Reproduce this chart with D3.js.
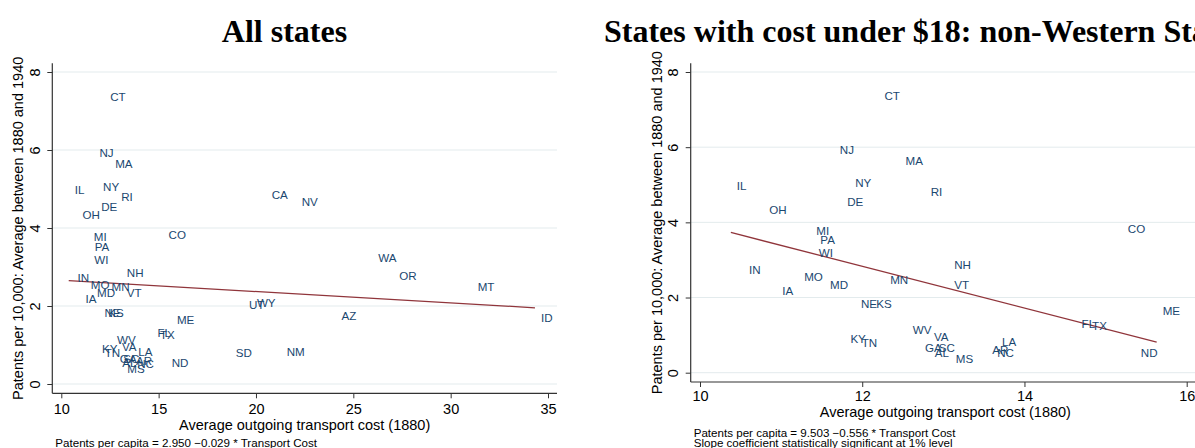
<!DOCTYPE html>
<html>
<head>
<meta charset="utf-8">
<script src="https://cdn.jsdelivr.net/npm/d3@7"></script>
<style>
  body { margin: 0; background: #fff; }
  svg { display: block; font-family: "Liberation Sans", Arial, sans-serif; }
  .title { font-family: "Liberation Serif", "Times New Roman", serif; font-weight: bold; font-size: 32px; }
</style>
</head>
<body>
<svg id="svg" width="1195" height="448"></svg>
<script>
// state labels, outgoing transport cost (1880) and patents per 10,000 (1880-1940 average)
var states  = ["CT","NJ","MA","NY","RI","DE","IL","OH","MI","PA","WI","IN","MO","MD","IA","NE","KS","KY","TN",
               "NH","MN","VT","CO","ME","FL","TX","ND","WV","VA","GA","SC","AL","MS","AR","NC","LA",
               "CA","NV","WA","OR","MT","ID","AZ","NM","SD","UT","WY"];
var costs   = [12.20,11.65,12.46,11.84,12.77,11.74,10.38,10.78,11.36,11.41,11.39,10.53,11.21,11.53,10.94,11.91,12.10,11.78,11.92,
               13.06,12.27,13.06,15.20,15.63,14.63,14.76,15.36,12.55,12.81,12.70,12.87,12.82,13.08,13.53,13.59,13.65,
               20.50,22.04,25.97,27.05,31.08,34.33,24.09,21.27,18.65,19.33,19.74];
var patents = [7.37,5.94,5.64,5.05,4.81,4.55,4.97,4.33,3.78,3.53,3.19,2.73,2.55,2.34,2.18,1.83,1.83,0.91,0.80,
               2.86,2.48,2.33,3.82,1.65,1.30,1.25,0.54,1.14,0.96,0.65,0.65,0.54,0.38,0.60,0.52,0.82,
               4.85,4.67,3.24,2.78,2.48,1.70,1.74,0.83,0.79,2.04,2.08];

var yTicks = [0, 2, 4, 6, 8];
var xTicksAll = [10, 15, 20, 25, 30, 35];
var xTicksSub = [10, 12, 14, 16];

// fitted lines from the notes
var fitAll = {a: 2.950, b: -0.029};
var fitSub = {a: 9.503, b: -0.556};

var navy = "#1a476f", maroon = "#90353b", grid = "#e3ebed", axisCol = "#333";

var svg = d3.select("svg");
var data = states.map(function(s, i){ return {s: s, x: costs[i], y: patents[i]}; });

function panel(cfg){
    var g = svg.append("g");
    var sx = d3.scaleLinear().domain(cfg.xDom).range(cfg.xRange);
    var sy = d3.scaleLinear().domain([0, 8]).range(cfg.yRange);

    // grid
    g.selectAll("line.grid").data(yTicks).enter().append("line")
        .attr("x1", cfg.left).attr("x2", cfg.right)
        .attr("y1", d => sy(d)).attr("y2", d => sy(d))
        .attr("stroke", grid).attr("stroke-width", 1);

    // x axis
    var xa = g.append("g").attr("transform", "translate(0," + cfg.base + ")")
        .call(d3.axisBottom(sx).tickValues(cfg.xTicks).tickFormat(d3.format("d"))
            .tickSize(5).tickSizeOuter(0).tickPadding(cfg.xPad));
    xa.select(".domain").remove();
    xa.selectAll(".tick line").attr("stroke", axisCol);
    xa.selectAll(".tick text").attr("font-size", "14.5px").attr("fill", "#000").attr("font-family", null);

    // y axis
    var ya = g.append("g").attr("transform", "translate(" + cfg.left + ",0)")
        .call(d3.axisLeft(sy).tickValues(yTicks).tickFormat(d3.format("d")).tickSize(5).tickSizeOuter(0));
    ya.select(".domain").remove();
    ya.selectAll(".tick line").attr("stroke", axisCol);
    ya.selectAll(".tick text").attr("x", null).attr("dy", null)
        .attr("text-anchor", "middle").attr("font-size", "14.5px").attr("fill", "#000").attr("font-family", null)
        .attr("transform", "translate(-12.3,0) rotate(-90)");

    g.append("line").attr("x1", cfg.left).attr("x2", cfg.right).attr("y1", cfg.base).attr("y2", cfg.base)
        .attr("stroke", axisCol).attr("stroke-width", 1.2);
    g.append("line").attr("x1", cfg.left).attr("x2", cfg.left).attr("y1", cfg.top).attr("y2", cfg.base)
        .attr("stroke", axisCol).attr("stroke-width", 1.2);

    // fit line over the data range
    var ext = d3.extent(cfg.rows, d => d.x);
    g.append("line")
        .attr("x1", sx(ext[0])).attr("y1", sy(cfg.fit.a + cfg.fit.b * ext[0]))
        .attr("x2", sx(ext[1])).attr("y2", sy(cfg.fit.a + cfg.fit.b * ext[1]))
        .attr("stroke", maroon).attr("stroke-width", 1.3);

    // state labels (marker symbol none, label at 3 o'clock)
    g.selectAll("text.st").data(cfg.rows).enter().append("text")
        .attr("x", d => sx(d.x) + 6).attr("y", d => sy(d.y)).attr("dy", "0.36em")
        .attr("font-size", "11.6px").attr("fill", navy).text(d => d.s);

    // axis titles
    g.append("text").attr("x", (cfg.left + cfg.right) / 2).attr("y", cfg.xTitleY)
        .attr("text-anchor", "middle").attr("font-size", "14.5px")
        .text("Average outgoing transport cost (1880)");
    g.append("text").attr("transform", "translate(" + cfg.yTitleX + "," + (cfg.top + cfg.base) / 2 + ") rotate(-90)")
        .attr("text-anchor", "middle").attr("font-size", "14.5px")
        .text("Patents per 10,000: Average between 1880 and 1940");

    // notes
    cfg.notes.forEach(function(n, i){
        g.append("text").attr("x", cfg.left + 3).attr("y", cfg.noteY + i * 10.8)
            .attr("font-size", "11.6px").text(n);
    });

    svg.append("text").attr("class", "title")
        .attr("x", cfg.titleX).attr("y", 41.5).attr("text-anchor", cfg.titleAnchor)
        .text(cfg.title);
}

panel({
    rows: data, xDom: [10, 35], xRange: [61.3, 548], yRange: [384, 72],
    left: 52.3, right: 557, top: 63.3, base: 393.3, xTicks: xTicksAll, xPad: 5.5,
    fit: fitAll, xTitleY: 430, yTitleX: 23.3, noteY: 446.5,
    notes: ["Patents per capita = 2.950 \u22120.029 * Transport Cost"],
    title: "All states", titleX: 284.5, titleAnchor: "middle"
});

panel({
    rows: data.filter(d => d.x < 18), xDom: [10, 16], xRange: [700, 1186.7], yRange: [372.7, 72],
    left: 690.7, right: 1200, top: 63.3, base: 382, xTicks: xTicksSub, xPad: 3.5,
    fit: fitSub, xTitleY: 417, yTitleX: 661.7, noteY: 436.5,
    notes: ["Patents per capita = 9.503 \u22120.556 * Transport Cost",
            "Slope coefficient statistically significant at 1% level"],
    title: "States with cost under $18: non-Western States", titleX: 604, titleAnchor: "start"
});
</script>
</body>
</html>
